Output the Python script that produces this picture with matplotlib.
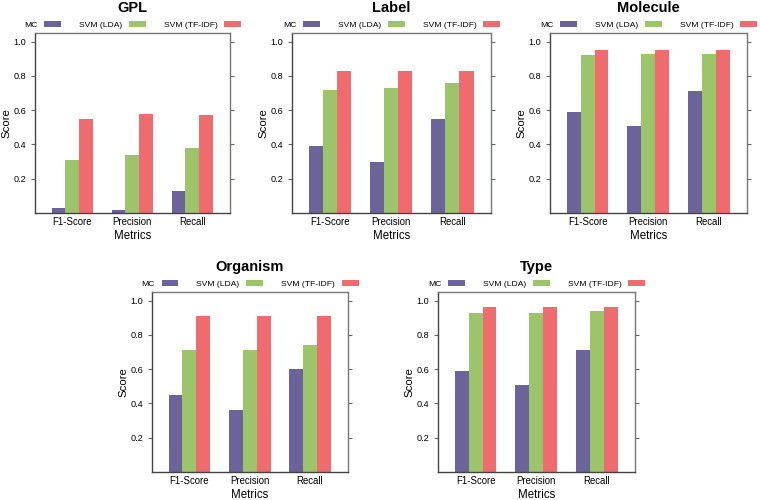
import matplotlib
matplotlib.use("Agg")
import matplotlib.pyplot as plt
import numpy as np

plt.rcParams['font.family'] = ['Liberation Sans', 'DejaVu Sans']

metrics = ['F1-Score', 'Precision', 'Recall']
series = ['MC', 'SVM (LDA)', 'SVM (TF-IDF)']
colors = ['#6b6399', '#9cc46a', '#f06b6e']

gpl = [[0.03, 0.02, 0.13], [0.31, 0.34, 0.38], [0.55, 0.58, 0.57]]
label = [[0.39, 0.30, 0.55], [0.72, 0.73, 0.76], [0.83, 0.83, 0.83]]
molecule = [[0.59, 0.51, 0.71], [0.92, 0.93, 0.93], [0.95, 0.95, 0.95]]
organism = [[0.45, 0.36, 0.60], [0.71, 0.71, 0.74], [0.91, 0.91, 0.91]]
type_ = [[0.59, 0.51, 0.71], [0.93, 0.93, 0.94], [0.96, 0.96, 0.96]]

# panel title, values, axes box in pixels (left, right, top, bottom)
panels = [
    ('GPL', gpl, (35, 230, 33, 213)),
    ('Label', label, (292, 491, 33, 213)),
    ('Molecule', molecule, (550, 747, 33, 213)),
    ('Organism', organism, (152, 348, 292, 472)),
    ('Type', type_, (438, 635, 292, 472)),
]

W, H = 760, 500
fig = plt.figure(figsize=(W / 100, H / 100), dpi=100)

x = np.arange(len(metrics))
bw = 0.23
for title, vals, (l, r, t, b) in panels:
    ax = fig.add_axes([l / W, 1 - b / H, (r - l) / W, (b - t) / H])
    for i, s in enumerate(series):
        ax.bar(x + (i - 1) * bw, vals[i], bw, color=colors[i], label=s)
    ax.set_xlim(-0.62, 2.63)
    ax.set_ylim(0, 1.05)
    ax.set_yticks([0.2, 0.4, 0.6, 0.8, 1.0])
    ax.set_yticklabels(['0.2', '0.4', '0.6', '0.8', '1.0'], fontsize=6.6)
    ax.set_xticks(x)
    ax.set_xticklabels(metrics, fontsize=6.9)
    ax.tick_params(axis='x', length=0, pad=3)
    ax.tick_params(axis='y', length=3, width=0.8, color='#666666', right=True, direction='out', pad=3.5)
    for sp in ax.spines.values():
        sp.set_color('#777777')
        sp.set_linewidth(1.0)
    ax.spines['left'].set_color('#444444')
    ax.spines['bottom'].set_color('#444444')
    ax.set_xlabel('Metrics', fontsize=8.3, labelpad=2)
    ax.set_ylabel('Score', fontsize=8.2, labelpad=1)
    ax.set_title(title, fontsize=10.5, fontweight='bold', pad=15)
    ax.legend(ncol=3, loc='lower center', bbox_to_anchor=(0.5, 1.0), frameon=False,
              markerfirst=False, fontsize=6.1, handlelength=2.0, handleheight=0.8,
              handletextpad=0.8, columnspacing=2.1, borderaxespad=0.25, borderpad=0.2)

fig.savefig('out.png', dpi=100)
